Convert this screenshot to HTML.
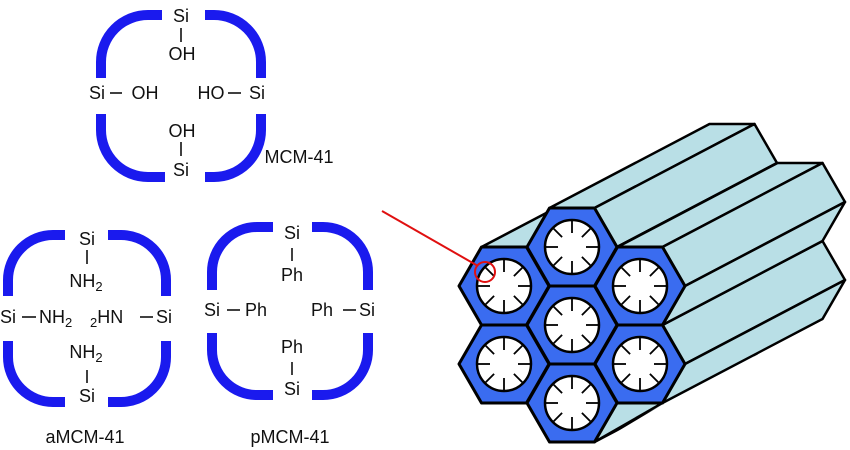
<!DOCTYPE html>
<html><head><meta charset="utf-8"><style>
html,body{margin:0;padding:0;background:#fff}
svg{display:block}
text{font-family:"Liberation Sans",sans-serif;font-size:18px;fill:#111}
</style></head><body>
<svg id="s" width="850" height="450" viewBox="0 0 850 450" xmlns="http://www.w3.org/2000/svg">
<g fill="none" stroke="#1a1aee" stroke-width="10">
<path d="M101,78 L101,62 A47,47 0 0 1 148,15 L162,15"/>
<path d="M205,15 L214,15 A47,47 0 0 1 261,62 L261,78"/>
<path d="M101,114 L101,130 A47,47 0 0 0 148,177 L165,177"/>
<path d="M205,177 L214,177 A47,47 0 0 0 261,130 L261,114"/>
<path d="M8,296 L8,280 A45,45 0 0 1 53,235 L65,235"/>
<path d="M108,235 L121,235 A45,45 0 0 1 166,280 L166,296"/>
<path d="M8,341 L8,357 A45,45 0 0 0 53,402 L65,402"/>
<path d="M108,402 L121,402 A45,45 0 0 0 166,357 L166,341"/>
<path d="M212,290 L212,272 A45,45 0 0 1 257,227 L273,227"/>
<path d="M312,227 L323,227 A45,45 0 0 1 368,272 L368,290"/>
<path d="M212,333 L212,350 A45,45 0 0 0 257,395 L273,395"/>
<path d="M312,395 L323,395 A45,45 0 0 0 368,350 L368,333"/>
</g>
<g stroke="#111" stroke-width="1.6">
<line x1="181" y1="28" x2="181" y2="42"/>
<line x1="110" y1="93" x2="122" y2="93"/>
<line x1="228" y1="93" x2="241" y2="93"/>
<line x1="181" y1="142" x2="181" y2="156"/>
<line x1="87" y1="250" x2="87" y2="264"/>
<line x1="22" y1="317" x2="36" y2="317"/>
<line x1="140" y1="317" x2="153" y2="317"/>
<line x1="87" y1="370" x2="87" y2="383"/>
<line x1="292" y1="248" x2="292" y2="261"/>
<line x1="227" y1="310" x2="240" y2="310"/>
<line x1="343" y1="310" x2="356" y2="310"/>
<line x1="292" y1="362" x2="292" y2="375"/>
</g>
<g text-anchor="middle">
<text x="181" y="22">Si</text>
<text x="182" y="60">OH</text>
<text x="97" y="99">Si</text>
<text x="145" y="99">OH</text>
<text x="211" y="99">HO</text>
<text x="257" y="99">Si</text>
<text x="182" y="137">OH</text>
<text x="181" y="176">Si</text>
<text x="87" y="245">Si</text>
<text x="86" y="287">NH<tspan font-size="13" dy="4">2</tspan></text>
<text x="86" y="358">NH<tspan font-size="13" dy="4">2</tspan></text>
<text x="87" y="402">Si</text>
<text x="292" y="239">Si</text>
<text x="292" y="281">Ph</text>
<text x="292" y="353">Ph</text>
<text x="292" y="395">Si</text>
<text x="299" y="163">MCM-41</text>
<text x="85" y="443">aMCM-41</text>
<text x="290" y="443">pMCM-41</text>
</g>
<text x="0" y="323">Si</text>
<text x="39" y="323">NH<tspan font-size="13" dy="4">2</tspan></text>
<text x="90" y="323"><tspan font-size="13" dy="4">2</tspan><tspan dy="-4">HN</tspan></text>
<text x="156" y="323">Si</text>
<text x="204" y="316">Si</text>
<text x="245" y="316">Ph</text>
<text x="311" y="316">Ph</text>
<text x="359" y="316">Si</text>
<g id="bundle"></g>
<line x1="382" y1="211" x2="478" y2="266" stroke="#e01010" stroke-width="2"/>
<circle cx="485" cy="272" r="10" fill="none" stroke="#e01010" stroke-width="2"/>
</svg>
<script>
(function(){
var ns="http://www.w3.org/2000/svg",g=document.getElementById("bundle");
var r=45,d=[160,-84];
var C=[[572,247],[504,286],[640,286],[572,325],[504,364],[640,364],[572,403]];
function V(c,k){var a=k*Math.PI/3;return [c[0]+r*Math.cos(a),c[1]+r*Math.sin(a)];}
function poly(pts,fill,sw,stroke){var p=document.createElementNS(ns,"polygon");p.setAttribute("points",pts.map(function(q){return q[0].toFixed(1)+","+q[1].toFixed(1)}).join(" "));p.setAttribute("fill",fill);p.setAttribute("stroke",stroke||"#000");p.setAttribute("stroke-width",sw);p.setAttribute("stroke-linejoin","round");g.appendChild(p);}
function line(a,b,sw){var l=document.createElementNS(ns,"line");l.setAttribute("x1",a[0]);l.setAttribute("y1",a[1]);l.setAttribute("x2",b[0]);l.setAttribute("y2",b[1]);l.setAttribute("stroke","#000");l.setAttribute("stroke-width",sw);g.appendChild(l);}
var order=C.slice().sort(function(a,b){return (a[0]-a[1])-(b[0]-b[1]);});
order.forEach(function(c){
 [[4,5],[5,6],[0,1]].forEach(function(e){
  var a=V(c,e[0]),b=V(c,e[1]);
  poly([a,b,[b[0]+d[0],b[1]+d[1]],[a[0]+d[0],a[1]+d[1]]],"#b9dfe6",2.5);
 });
});
// hide part of bottom hex extrusion below right-lower prism
var rb=V([640,364],1), bb=V([572,403],1);
poly([[rb[0],rb[1]+1.5],[rb[0]+d[0],rb[1]+d[1]+1.5],[850,rb[1]+d[1]+1.5],[850,450],[bb[0]+3,450],[bb[0]+3,bb[1]+1.5]],"#fff",0,"none");
line(bb,rb,2.5);
C.forEach(function(c){
 var pts=[];for(var k=0;k<6;k++)pts.push(V(c,k));
 poly(pts,"#3a6cf0",3);
 var ci=document.createElementNS(ns,"circle");ci.setAttribute("cx",c[0]);ci.setAttribute("cy",c[1]);ci.setAttribute("r",27);ci.setAttribute("fill","#fff");ci.setAttribute("stroke","#000");ci.setAttribute("stroke-width",2.5);g.appendChild(ci);
 for(var k=0;k<8;k++){var a=k*Math.PI/4;
  line([c[0]+14*Math.cos(a),c[1]+14*Math.sin(a)],[c[0]+26*Math.cos(a),c[1]+26*Math.sin(a)],1.8);}
});
})();
</script>
</body></html>
